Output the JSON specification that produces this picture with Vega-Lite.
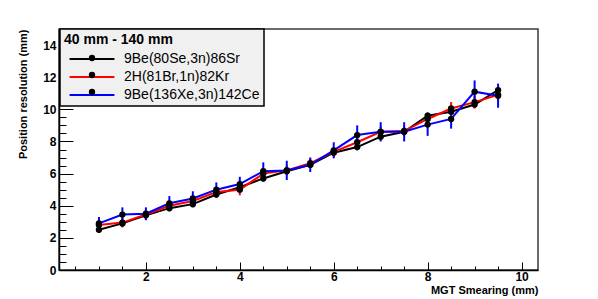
{
  "$schema": "https://vega.github.io/schema/vega-lite/v6.json",
  "width": 479,
  "height": 241,
  "autosize": {"type": "none"},
  "padding": {"left": 59, "top": 29, "right": 60, "bottom": 30},
  "background": "white",
  "config": {
    "view": {"stroke": "#3a3a3a", "strokeWidth": 1.5},
    "font": "Liberation Sans",
    "axis": {
      "labelFont": "Liberation Sans", "labelFontWeight": "bold", "labelFontSize": 12, "labelColor": "black",
      "titleFont": "Liberation Sans", "titleFontWeight": "bold", "titleFontSize": 11, "titleColor": "black",
      "domainColor": "black", "domainWidth": 1.5, "tickColor": "black", "tickWidth": 1, "grid": false,
      "labelOverlap": false, "labelFlush": false
    }
  },
  "data": {"values": [
    {"s": "9Be(80Se,3n)86Sr", "x": 1, "y": 2.5, "e": 0.2},
    {"s": "9Be(80Se,3n)86Sr", "x": 1.5, "y": 2.9, "e": 0.2},
    {"s": "9Be(80Se,3n)86Sr", "x": 2, "y": 3.4, "e": 0.2},
    {"s": "9Be(80Se,3n)86Sr", "x": 2.5, "y": 3.85, "e": 0.2},
    {"s": "9Be(80Se,3n)86Sr", "x": 3, "y": 4.1, "e": 0.2},
    {"s": "9Be(80Se,3n)86Sr", "x": 3.5, "y": 4.7, "e": 0.2},
    {"s": "9Be(80Se,3n)86Sr", "x": 4, "y": 5.15, "e": 0.2},
    {"s": "9Be(80Se,3n)86Sr", "x": 4.5, "y": 5.7, "e": 0.2},
    {"s": "9Be(80Se,3n)86Sr", "x": 5, "y": 6.15, "e": 0.2},
    {"s": "9Be(80Se,3n)86Sr", "x": 5.5, "y": 6.55, "e": 0.2},
    {"s": "9Be(80Se,3n)86Sr", "x": 6, "y": 7.3, "e": 0.2},
    {"s": "9Be(80Se,3n)86Sr", "x": 6.5, "y": 7.65, "e": 0.2},
    {"s": "9Be(80Se,3n)86Sr", "x": 7, "y": 8.3, "e": 0.2},
    {"s": "9Be(80Se,3n)86Sr", "x": 7.5, "y": 8.6, "e": 0.2},
    {"s": "9Be(80Se,3n)86Sr", "x": 8, "y": 9.6, "e": 0.2},
    {"s": "9Be(80Se,3n)86Sr", "x": 8.5, "y": 9.85, "e": 0.2},
    {"s": "9Be(80Se,3n)86Sr", "x": 9, "y": 10.3, "e": 0.2},
    {"s": "9Be(80Se,3n)86Sr", "x": 9.5, "y": 11.2, "e": 0.2},
    {"s": "2H(81Br,1n)82Kr", "x": 1, "y": 2.8, "e": 0.3},
    {"s": "2H(81Br,1n)82Kr", "x": 1.5, "y": 2.95, "e": 0.3},
    {"s": "2H(81Br,1n)82Kr", "x": 2, "y": 3.45, "e": 0.3},
    {"s": "2H(81Br,1n)82Kr", "x": 2.5, "y": 4.0, "e": 0.3},
    {"s": "2H(81Br,1n)82Kr", "x": 3, "y": 4.3, "e": 0.3},
    {"s": "2H(81Br,1n)82Kr", "x": 3.5, "y": 4.85, "e": 0.3},
    {"s": "2H(81Br,1n)82Kr", "x": 4, "y": 5.0, "e": 0.35},
    {"s": "2H(81Br,1n)82Kr", "x": 4.5, "y": 6.0, "e": 0.3},
    {"s": "2H(81Br,1n)82Kr", "x": 5, "y": 6.2, "e": 0.3},
    {"s": "2H(81Br,1n)82Kr", "x": 5.5, "y": 6.65, "e": 0.3},
    {"s": "2H(81Br,1n)82Kr", "x": 6, "y": 7.35, "e": 0.3},
    {"s": "2H(81Br,1n)82Kr", "x": 6.5, "y": 7.95, "e": 0.3},
    {"s": "2H(81Br,1n)82Kr", "x": 7, "y": 8.6, "e": 0.3},
    {"s": "2H(81Br,1n)82Kr", "x": 7.5, "y": 8.65, "e": 0.3},
    {"s": "2H(81Br,1n)82Kr", "x": 8, "y": 9.4, "e": 0.35},
    {"s": "2H(81Br,1n)82Kr", "x": 8.5, "y": 10.05, "e": 0.4},
    {"s": "2H(81Br,1n)82Kr", "x": 9, "y": 10.45, "e": 0.4},
    {"s": "2H(81Br,1n)82Kr", "x": 9.5, "y": 10.9, "e": 0.4},
    {"s": "9Be(136Xe,3n)142Ce", "x": 1, "y": 2.9, "e": 0.4},
    {"s": "9Be(136Xe,3n)142Ce", "x": 1.5, "y": 3.45, "e": 0.45},
    {"s": "9Be(136Xe,3n)142Ce", "x": 2, "y": 3.5, "e": 0.4},
    {"s": "9Be(136Xe,3n)142Ce", "x": 2.5, "y": 4.15, "e": 0.45},
    {"s": "9Be(136Xe,3n)142Ce", "x": 3, "y": 4.45, "e": 0.45},
    {"s": "9Be(136Xe,3n)142Ce", "x": 3.5, "y": 5.0, "e": 0.45},
    {"s": "9Be(136Xe,3n)142Ce", "x": 4, "y": 5.35, "e": 0.45},
    {"s": "9Be(136Xe,3n)142Ce", "x": 4.5, "y": 6.15, "e": 0.55},
    {"s": "9Be(136Xe,3n)142Ce", "x": 5, "y": 6.2, "e": 0.6},
    {"s": "9Be(136Xe,3n)142Ce", "x": 5.5, "y": 6.55, "e": 0.45},
    {"s": "9Be(136Xe,3n)142Ce", "x": 6, "y": 7.45, "e": 0.5},
    {"s": "9Be(136Xe,3n)142Ce", "x": 6.5, "y": 8.4, "e": 0.6},
    {"s": "9Be(136Xe,3n)142Ce", "x": 7, "y": 8.6, "e": 0.6},
    {"s": "9Be(136Xe,3n)142Ce", "x": 7.5, "y": 8.6, "e": 0.6},
    {"s": "9Be(136Xe,3n)142Ce", "x": 8, "y": 9.05, "e": 0.7},
    {"s": "9Be(136Xe,3n)142Ce", "x": 8.5, "y": 9.4, "e": 0.6},
    {"s": "9Be(136Xe,3n)142Ce", "x": 9, "y": 11.1, "e": 0.7},
    {"s": "9Be(136Xe,3n)142Ce", "x": 9.5, "y": 10.85, "e": 0.75}
  ]},
  "encoding": {
    "x": {
      "field": "x", "type": "quantitative",
      "scale": {"domain": [0.15, 10.35], "nice": false, "zero": false},
      "axis": {
        "title": "MGT Smearing (mm)", "titleAnchor": "end", "titlePadding": -2,
        "values": [0.5,1,1.5,2,2.5,3,3.5,4,4.5,5,5.5,6,6.5,7,7.5,8,8.5,9,9.5,10],
        "labelExpr": "datum.value % 2 === 0 ? format(datum.value, 'd') : ''",
        "tickSize": {"condition": {"test": "datum.value % 2 === 0", "value": -8}, "value": -4},
        "labelPadding": 9
      }
    },
    "y": {
      "field": "y", "type": "quantitative",
      "scale": {"domain": [0, 15], "nice": false, "zero": false},
      "axis": {
        "title": "Position resolution (mm)", "titleAnchor": "end", "titlePadding": 14,
        "values": [0,0.5,1,1.5,2,2.5,3,3.5,4,4.5,5,5.5,6,6.5,7,7.5,8,8.5,9,9.5,10,10.5,11,11.5,12,12.5,13,13.5,14,14.5],
        "labelExpr": "datum.value % 2 === 0 ? format(datum.value, 'd') : ''",
        "tickSize": {"condition": {"test": "datum.value % 2 === 0", "value": -14}, "value": -7},
        "labelPadding": 17
      }
    }
  },
  "layer": [
    {
      "mark": {"type": "errorbar", "thickness": 2},
      "encoding": {
        "yError": {"field": "e"},
        "color": {"field": "s", "type": "nominal",
          "scale": {"domain": ["9Be(80Se,3n)86Sr", "2H(81Br,1n)82Kr", "9Be(136Xe,3n)142Ce"], "range": ["#000000", "#ff0000", "#0000ff"]}}
      }
    },
    {
      "mark": {"type": "line", "strokeWidth": 2},
      "encoding": {
        "color": {"field": "s", "type": "nominal",
          "scale": {"domain": ["9Be(80Se,3n)86Sr", "2H(81Br,1n)82Kr", "9Be(136Xe,3n)142Ce"], "range": ["#000000", "#ff0000", "#0000ff"]},
          "legend": {
            "orient": "none", "legendX": 1, "legendY": 0,
            "title": "40 mm - 140 mm", "titleFont": "Liberation Sans", "titleFontSize": 14, "titleFontWeight": "bold", "titleColor": "black", "titlePadding": 4,
            "labelFont": "Liberation Sans", "labelFontSize": 14, "labelColor": "black", "labelOffset": 24, "labelLimit": 300,
            "labelExpr": "datum.label + '\u00a0\u00a0\u00a0\u00a0\u00a0\u00a0\u00a0\u00a0\u00a0\u00a0\u00a0'",
            "fillColor": "#f0f0f0", "strokeColor": "black", "padding": 4,
            "symbolType": "M-3.2,0H3.2", "symbolSize": 196, "symbolStrokeWidth": 2, "symbolOffset": 20, "rowPadding": 3,
            "encode": {"legend": {"update": {"strokeWidth": {"value": 1.5}}}}
          }
        }
      }
    },
    {
      "mark": {"type": "point", "filled": true, "color": "black", "size": 40, "opacity": 1},
      "encoding": {
        "shape": {"field": "s", "type": "nominal",
          "scale": {"range": ["circle", "circle", "circle"]},
          "legend": {
            "orient": "none", "legendX": 1, "legendY": 0,
            "title": "40 mm - 140 mm", "titleFont": "Liberation Sans", "titleFontSize": 14, "titleFontWeight": "bold", "titleColor": "transparent", "titlePadding": 4,
            "labelFont": "Liberation Sans", "labelFontSize": 14, "labelColor": "transparent", "labelOffset": 24, "labelExpr": "' '",
            "fillColor": "transparent", "strokeColor": "transparent", "padding": 4,
            "symbolSize": 40, "symbolFillColor": "black", "symbolStrokeWidth": 0, "symbolOffset": 21, "rowPadding": 3
          }
        }
      }
    }
  ]
}
